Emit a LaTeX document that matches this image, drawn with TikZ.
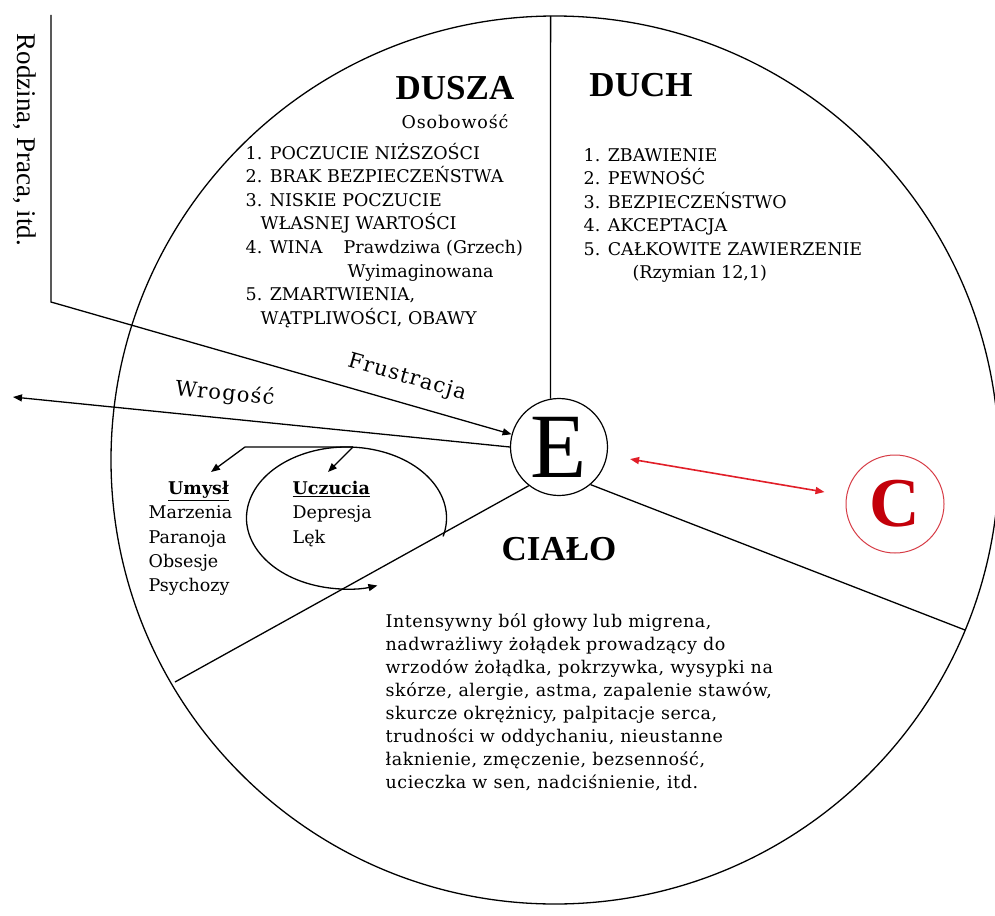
\documentclass[tikz,border=0pt]{standalone}
\usepackage{fontspec}
\setmainfont{DejaVu Serif}
\newfontfamily\tnr{Liberation Serif}
\newfontfamily\spaced[LetterSpace=3]{DejaVu Serif}
\newfontfamily\wide[LetterSpace=6]{DejaVu Serif}
\newfontfamily\osfont[LetterSpace=5]{DejaVu Serif}
\usetikzlibrary{arrows.meta,calc}
\definecolor{arrowred}{RGB}{225,30,40}
\definecolor{cred}{RGB}{195,0,10}
\definecolor{cring}{RGB}{215,60,70}
\begin{document}
\begin{tikzpicture}[x=1pt,y=-1pt,line width=1.3pt,
  tip/.style={-{Triangle[length=9pt,width=7pt]}},
  txt/.style={anchor=base west,inner sep=0pt,font=\fontsize{17.5}{20}\selectfont},
  bodytxt/.style={anchor=base west,inner sep=0pt,font=\spaced\fontsize{17.5}{20}\selectfont},
  head/.style={anchor=base,inner sep=0pt,font=\tnr\bfseries\fontsize{35}{40}\selectfont},
  lbl/.style={inner sep=0pt,font=\wide\fontsize{21}{23}\selectfont},
  ecirc/.style={circle,draw,line width=1.2pt,minimum size=97pt,inner sep=0pt,font=\tnr\fontsize{92}{92}\selectfont},
  ccirc/.style={circle,draw=cring,line width=1pt,minimum size=98pt,inner sep=0pt,text=cred,font=\tnr\bfseries\fontsize{70}{70}\selectfont}]
\useasboundingbox (0,0) rectangle (995,915);
\fill[white] (0,0) rectangle (995,915);
% big circle
\coordinate (O) at (555,460);
\draw (O) circle[radius=444];
% centre nodes
\node[ecirc] (E) at (559,447) {E};
\node[ccirc] (C) at (895,504) {C};
% sector lines
\coordinate (vtop) at (550.6,16);
\draw (vtop) -- (E.100);
\coordinate (cll) at (175,682);
\draw (E.232) -- (cll);
\coordinate (crr) at (965,630);
\draw (E.310) -- (crr);
% Rodzina line with Frustracja arrow
\coordinate (rtop) at (51,15);
\coordinate (rbend) at (51,302);
\draw[tip] (rtop) -- (rbend) -- (E.165);
\node[inner sep=0pt,rotate=-90,font=\tnr\fontsize{27}{30}\selectfont] (rodz) at (25,140) {Rodzina, Praca, itd.};
% Wrogosc arrow
\coordinate (wend) at (13,397);
\draw[tip] (E.west) -- (wend);
\node[lbl,rotate=-5.6] (wrog) at (225,394) {Wrogość};
\node[lbl,rotate=-16] (frus) at (407,378) {Frustracja};
% red double arrow
\draw[arrowred,line width=1.6pt,{Triangle[length=9pt,width=7pt]}-{Triangle[length=9pt,width=7pt]},shorten <=23pt,shorten >=22pt] (E) -- (C);
% headings
\node[head] (dusza) at (455,100) {DUSZA};
\node[anchor=base,inner sep=0pt,font=\osfont\fontsize{17.5}{20}\selectfont] (osob) at (455,128.5) {Osobowość};
\node[head] (duch) at (641,97) {DUCH};
\node[head] (cialo) at (559,560) {CIAŁO};
% DUSZA list
\foreach \t [count=\i] in {{1. POCZUCIE NIŻSZOŚCI},{2. BRAK BEZPIECZEŃSTWA},{3. NISKIE POCZUCIE},{\hspace*{15pt}WŁASNEJ WARTOŚCI},{\makebox[98pt][l]{4. WINA}Prawdziwa (Grzech)},{\hspace*{102pt}Wyimaginowana},{5. ZMARTWIENIA,},{\hspace*{15pt}WĄTPLIWOŚCI, OBAWY}}
  \node[txt] (dl\i) at (245,{159+23.6*(\i-1)}) {\t};
% DUCH list
\foreach \t [count=\i] in {{1. ZBAWIENIE},{2. PEWNOŚĆ},{3. BEZPIECZEŃSTWO},{4. AKCEPTACJA},{5. CAŁKOWITE ZAWIERZENIE},{\hspace*{49pt}(Rzymian 12,1)}}
  \node[txt] (cl\i) at (583,{161+23.5*(\i-1)}) {\t};
% Umysl / Uczucia
\node[anchor=base,inner sep=0pt,font=\bfseries\fontsize{17.5}{20}\selectfont] (umysl) at (198.5,494.5) {\underline{Umysł}};
\foreach \t [count=\i] in {Marzenia,Paranoja,Obsesje,Psychozy}
  \node[txt] (um\i) at (148,{494.5+24.3*\i}) {\t};
\node[anchor=base west,inner sep=0pt,font=\bfseries\fontsize{17.5}{20}\selectfont] (uczucia) at (292,494.5) {\underline{Uczucia}};
\foreach \t [count=\i] in {Depresja,Lęk}
  \node[txt] (uc\i) at (292,{494.5+24.3*\i}) {\t};
% branching arrows
\coordinate (bstart) at (353,447);
\coordinate (bcorner) at (245,447);
\coordinate (umtip) at (211,472);
\coordinate (uctip) at (328,472);
\draw[tip] (bstart) -- (bcorner) -- (umtip);
\draw[tip] (bstart) -- (uctip);
% loop
\coordinate (ell) at (346.5,518);
\draw[tip] ($(ell)+(15:100 and 71)$) arc[start angle=15,end angle=-288,x radius=100,y radius=71];
% body list
\foreach \t [count=\i] in {{Intensywny ból głowy lub migrena,},{nadwrażliwy żołądek prowadzący do},{wrzodów żołądka, pokrzywka, wysypki na},{skórze, alergie, astma, zapalenie stawów,},{skurcze okrężnicy, palpitacje serca,},{trudności w oddychaniu, nieustanne},{łaknienie, zmęczenie, bezsenność,},{ucieczka w sen, nadciśnienie, itd.}}
  \node[bodytxt] (bl\i) at (385,{627+23.1*(\i-1)}) {\t};
\end{tikzpicture}
\end{document}
